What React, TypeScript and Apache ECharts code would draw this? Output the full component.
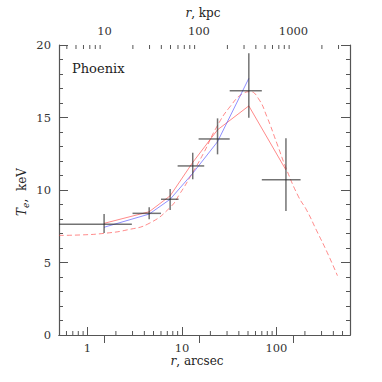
import React, { useEffect, useRef } from "react";
import * as echarts from "echarts";

// ---- data ----
const BIN_CENTER = [1.5, 4.5, 7.5, 13.0, 23.8, 51, 126]; // arcsec
const BIN_LO = [0, 3.0, 6.0, 9.0, 15.0, 32, 70];
const BIN_HI = [2.95, 6.0, 9.2, 17.2, 32, 70, 180];
const TEMP = [7.63, 8.39, 9.36, 11.66, 13.52, 16.85, 10.71]; // keV
const TEMP_LO = [7.03, 7.98, 8.62, 10.74, 12.46, 14.99, 8.55];
const TEMP_HI = [8.34, 8.81, 10.07, 12.57, 14.94, 19.43, 13.57];

const PROJ_MODEL = [7.7, 8.5, 9.6, 11.9, 14.15, 15.8, 11.38]; // red solid
const ALT_MODEL = [7.43, 8.34, 9.36, 11.15, 13.33, 17.7]; // blue solid

const MODEL_R = [0.5, 0.84, 1.5, 2.63, 4.5, 7.5, 9.56, 12.2, 16.9, 23.4, 32.2, 44.7, 52.6, 64.5, 79.3, 101, 128.5, 171, 209, 266, 344, 442];
const MODEL_T = [6.87, 6.9, 7.01, 7.25, 7.7, 8.8, 9.77, 10.9, 12.53, 14.37, 15.74, 16.67, 16.78, 16.3, 15.05, 13.22, 11.38, 9.54, 8.6, 7.2, 5.7, 4.09];

const X_MIN = 0.5;
const X_MAX = 600;
const KPC_PER_ARCSEC = 6.61;
const Y_MIN = 0;
const Y_MAX = 20;
const Y_INTERVAL = 5;

const MINOR_ARCSEC = [0.6, 0.7, 0.8, 0.9, 2, 3, 4, 5, 6, 7, 8, 9, 20, 30, 40, 50, 60, 70, 80, 90, 200, 300, 400, 500];
const MINOR_KPC = [4, 5, 6, 7, 8, 9, 20, 30, 40, 50, 60, 70, 80, 90, 200, 300, 400, 500, 600, 700, 800, 900, 2000, 3000];

const FONT = "DejaVu Serif";
const AXIS_COLOR = "#555";
const TEXT_COLOR = "#333";
const RED = "rgba(255,60,60,0.6)";
const BLUE = "rgba(70,70,255,0.6)";
const BAR_COLOR = "rgba(40,40,40,0.65)";

const decadeLabel = (v: number) => {
  const l = Math.log10(v);
  if (Math.abs(l - Math.round(l)) < 1e-6) {
    return String(Math.round(Math.pow(10, Math.round(l))));
  }
  return "";
};

export default function App() {
  const ref = useRef<HTMLDivElement>(null);
  useEffect(() => {
    if (!ref.current) return;
    document.body.style.margin = "0";
    const chart = echarts.init(ref.current, null, { renderer: "svg" });

    const logAxisBase = {
      type: "log" as const,
      logBase: 10,
      splitLine: { show: false },
      axisLine: { show: true, lineStyle: { color: AXIS_COLOR, width: 1.2 } },
      axisTick: { show: true, inside: true, length: 8, lineStyle: { color: AXIS_COLOR, width: 1 } },
      minorTick: { show: false },
      axisLabel: {
        show: true,
        margin: 7,
        color: TEXT_COLOR,
        fontFamily: FONT,
        fontSize: 11.5,
        showMinLabel: false,
        showMaxLabel: false,
        formatter: decadeLabel,
      },
    };

    const yAxisBase = {
      type: "value" as const,
      min: Y_MIN,
      max: Y_MAX,
      interval: Y_INTERVAL,
      splitLine: { show: false },
      axisLine: { show: true, lineStyle: { color: AXIS_COLOR, width: 1.2 } },
      axisTick: { show: true, inside: true, length: 9, lineStyle: { color: AXIS_COLOR, width: 1 } },
      minorTick: { show: true, splitNumber: 5, length: 4, lineStyle: { color: AXIS_COLOR, width: 1 } },
    };

    const option: any = {
      animation: false,
      grid: { left: 59, right: 32, top: 45, bottom: 47, containLabel: false },
      xAxis: [
        { ...logAxisBase, position: "bottom", min: X_MIN, max: X_MAX },
        {
          ...logAxisBase,
          position: "top",
          min: X_MIN * KPC_PER_ARCSEC,
          max: X_MAX * KPC_PER_ARCSEC,
          axisLabel: { ...logAxisBase.axisLabel, margin: 8 },
        },
      ],
      yAxis: [
        {
          ...yAxisBase,
          position: "left",
          axisLabel: { show: true, margin: 8, color: TEXT_COLOR, fontFamily: FONT, fontSize: 11.5 },
        },
        { ...yAxisBase, position: "right", axisLabel: { show: false } },
      ],
      graphic: [
        {
          type: "text",
          x: 72,
          y: 68,
          style: { text: "Phoenix", font: `13px '${FONT}'`, fill: "#222", align: "left", verticalAlign: "middle" },
        },
        {
          type: "text",
          x: 197,
          y: 361,
          style: {
            text: "{i|r}, arcsec",
            align: "center",
            verticalAlign: "middle",
            fill: "#222",
            font: `12px '${FONT}'`,
            rich: { i: { fontStyle: "italic", fontFamily: FONT, fontSize: 12, fill: "#222" } },
          },
        },
        {
          type: "text",
          x: 203,
          y: 13,
          style: {
            text: "{i|r}, kpc",
            align: "center",
            verticalAlign: "middle",
            fill: "#222",
            font: `12px '${FONT}'`,
            rich: { i: { fontStyle: "italic", fontFamily: FONT, fontSize: 12, fill: "#222" } },
          },
        },
        {
          type: "text",
          x: 22,
          y: 192,
          rotation: Math.PI / 2,
          style: {
            text: "{i|T}{s|e}{n|,  keV}",
            align: "center",
            verticalAlign: "middle",
            fill: "#222",
            font: `12px '${FONT}'`,
            rich: {
              i: { fontStyle: "italic", fontFamily: FONT, fontSize: 12, lineHeight: 16, verticalAlign: "middle", fill: "#222" },
              s: { fontStyle: "italic", fontFamily: FONT, fontSize: 9, lineHeight: 16, verticalAlign: "bottom", fill: "#222" },
              n: { fontFamily: FONT, fontSize: 12, lineHeight: 16, verticalAlign: "middle", fill: "#222" },
            },
          },
        },
      ],
      series: [
        {
          type: "line",
          xAxisIndex: 0,
          yAxisIndex: 0,
          data: MODEL_R.map((r, i) => [r, MODEL_T[i]]),
          showSymbol: false,
          symbol: "none",
          smooth: 0.5,
          lineStyle: { color: RED, width: 1, type: [5, 3] },
          z: 2,
        },
        {
          type: "line",
          xAxisIndex: 0,
          yAxisIndex: 0,
          data: PROJ_MODEL.map((t, i) => [BIN_CENTER[i], t]),
          showSymbol: false,
          symbol: "none",
          lineStyle: { color: RED, width: 1 },
          z: 2,
        },
        {
          type: "line",
          xAxisIndex: 0,
          yAxisIndex: 0,
          data: ALT_MODEL.map((t, i) => [BIN_CENTER[i], t]),
          showSymbol: false,
          symbol: "none",
          lineStyle: { color: BLUE, width: 1 },
          z: 2,
        },
        {
          type: "custom",
          xAxisIndex: 0,
          yAxisIndex: 0,
          z: 3,
          data: BIN_CENTER.map((r, i) => [r, TEMP[i], BIN_LO[i], BIN_HI[i], TEMP_LO[i], TEMP_HI[i]]),
          renderItem: (params: any, api: any) => {
            const x = api.value(0);
            const y = api.value(1);
            const xlo = Math.max(api.value(2), X_MIN);
            const xhi = Math.min(api.value(3), X_MAX);
            const pL = api.coord([xlo, y]);
            const pR = api.coord([xhi, y]);
            const pB = api.coord([x, api.value(4)]);
            const pT = api.coord([x, api.value(5)]);
            const style = { stroke: BAR_COLOR, lineWidth: 1.5 };
            return {
              type: "group",
              children: [
                { type: "line", shape: { x1: pL[0], y1: pL[1], x2: pR[0], y2: pR[1] }, style },
                { type: "line", shape: { x1: pB[0], y1: pB[1], x2: pT[0], y2: pT[1] }, style },
              ],
            };
          },
        },
        {
          type: "custom",
          xAxisIndex: 0,
          yAxisIndex: 0,
          z: 4,
          data: MINOR_ARCSEC.map((v) => [v, Y_MIN]),
          renderItem: (params: any, api: any) => {
            const p = api.coord([api.value(0), Y_MIN]);
            return {
              type: "line",
              shape: { x1: p[0], y1: p[1], x2: p[0], y2: p[1] - 4 },
              style: { stroke: AXIS_COLOR, lineWidth: 1 },
            };
          },
        },
        {
          type: "custom",
          xAxisIndex: 1,
          yAxisIndex: 0,
          z: 4,
          data: MINOR_KPC.map((v) => [v, Y_MAX]),
          renderItem: (params: any, api: any) => {
            const p = api.coord([api.value(0), Y_MAX]);
            return {
              type: "line",
              shape: { x1: p[0], y1: p[1], x2: p[0], y2: p[1] + 4 },
              style: { stroke: AXIS_COLOR, lineWidth: 1 },
            };
          },
        },
      ],
    };

    chart.setOption(option);
    return () => chart.dispose();
  }, []);

  return <div ref={ref} style={{ width: 382, height: 382 }} />;
}
